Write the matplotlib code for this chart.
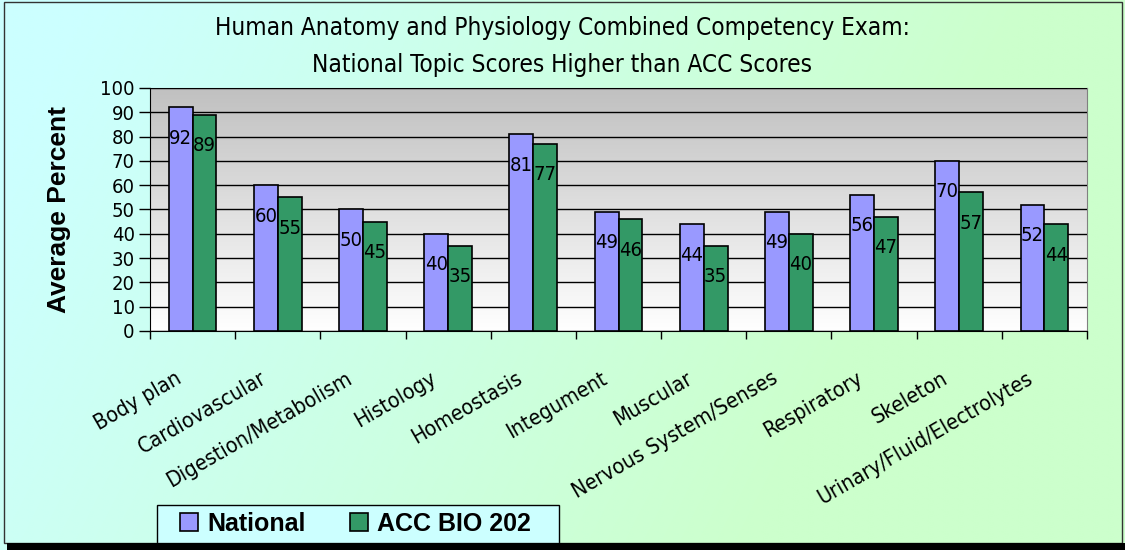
import numpy as np
import matplotlib

matplotlib.use("Agg")
import matplotlib.pyplot as plt
from matplotlib.patches import Patch, Rectangle
from matplotlib.transforms import ScaledTranslation

# data
topics = [
    "Body plan", "Cardiovascular", "Digestion/Metabolism", "Histology",
    "Homeostasis", "Integument", "Muscular", "Nervous System/Senses",
    "Respiratory", "Skeleton", "Urinary/Fluid/Electrolytes",
]
national = [92, 60, 50, 40, 81, 49, 44, 49, 56, 70, 52]
acc_bio_202 = [89, 55, 45, 35, 77, 46, 35, 40, 47, 57, 44]
series_names = ["National", "ACC BIO 202"]
title_lines = [
    "Human Anatomy and Physiology Combined Competency Exam:",
    "National Topic Scores Higher than ACC Scores",
]

NARROW = dict(family="DejaVu Sans", stretch="condensed")
NATIONAL_COLOR = "#9999FF"
ACC_COLOR = "#339966"

W, H = 1125, 550
fig = plt.figure(figsize=(W / 100, H / 100), dpi=100)

# figure background: cyan -> light green diagonal gradient
bg = fig.add_axes([0, 0, 1, 1], zorder=-10)
gx, gy = np.meshgrid(np.linspace(0, 1, 300), np.linspace(0, 1, 150))
t = np.clip(1.5 * (0.8 * gx + 0.2 * gy) - 0.1, 0, 1)
c0 = np.array([0xCC, 0xFF, 0xFF]) / 255
c1 = np.array([0xCC, 0xFF, 0xCC]) / 255
bg.imshow(c0 + (c1 - c0) * t[..., None], aspect="auto", extent=(0, 1, 0, 1),
          origin="upper", interpolation="bilinear")
bg.set_axis_off()

ax = fig.add_axes([150 / W, 1 - 331 / H, (1087 - 150) / W, (331 - 88) / H])

# plot area gradient: gray at top to white at bottom
grad = np.linspace(0, 1, 256)[:, None]
g0 = np.array([0xC0, 0xC0, 0xC0]) / 255
g1 = np.array([1.0, 1.0, 1.0])
ax.imshow(g0 + (g1 - g0) * grad[..., None], aspect="auto",
          extent=(-0.5, len(topics) - 0.5, 0, 100), origin="upper", zorder=0)

x = np.arange(len(topics))
bw = 0.28
bars_nat = ax.bar(x - bw / 2, national, bw, color=NATIONAL_COLOR,
                  edgecolor="black", linewidth=1.2, zorder=3)
bars_acc = ax.bar(x + bw / 2, acc_bio_202, bw, color=ACC_COLOR,
                  edgecolor="black", linewidth=1.2, zorder=3)

for bars, vals in ((bars_nat, national), (bars_acc, acc_bio_202)):
    for rect, v in zip(bars, vals):
        ax.annotate(str(v), (rect.get_x() + rect.get_width() / 2, v),
                    xytext=(0, -31), textcoords="offset pixels",
                    ha="center", va="center", fontsize=14.5, zorder=4, **NARROW)

ax.set_xlim(-0.5, len(topics) - 0.5)
ax.set_ylim(0, 100)
ax.set_yticks(np.arange(0, 101, 10))
ax.yaxis.grid(True, color="black", linewidth=1.0, zorder=1)
ax.set_axisbelow(False)
for lab in ax.get_yticklabels():
    lab.set_fontsize(14.5)
    lab.set_family(NARROW["family"])
    lab.set_stretch(NARROW["stretch"])
ax.tick_params(axis="y", direction="out", length=8, width=1, pad=3)

ax.set_xticks(x, topics, rotation=30, ha="right", va="center",
              rotation_mode="anchor", fontsize=15.5, **NARROW)
ax.set_xticks(np.arange(-0.5, len(topics), 1.0), minor=True)
ax.tick_params(axis="x", which="major", length=0, pad=33)
ax.tick_params(axis="x", which="minor", direction="out", length=6, width=1)
shift = ScaledTranslation(-0.13, 0, fig.dpi_scale_trans)
for lab in ax.get_xticklabels():
    lab.set_transform(lab.get_transform() + shift)

for side in ("top", "right"):
    ax.spines[side].set_color("#808080")
ax.spines["left"].set_color("black")
ax.spines["bottom"].set_color("black")

ax.set_ylabel("Average Percent", fontsize=19, fontweight="bold",
              family="Liberation Sans", labelpad=21)

fig.text(0.5, 1 - 28 / H, title_lines[0], ha="center", va="center",
         fontsize=17.5, **NARROW)
fig.text(0.5, 1 - 65 / H, title_lines[1], ha="center", va="center",
         fontsize=17.5, **NARROW)

# legend box drawn by hand so its padding can follow the reference
fig.add_artist(Rectangle((157 / W, 1 - 550 / H), (559 - 157) / W, 45 / H,
                         transform=fig.transFigure, facecolor="#CCFFFF",
                         edgecolor="black", linewidth=1.0, zorder=4))
handles = [
    Patch(facecolor=NATIONAL_COLOR, edgecolor="black", linewidth=1.2),
    Patch(facecolor=ACC_COLOR, edgecolor="black", linewidth=1.2),
]
fig.legend(handles, series_names, ncol=2, loc="upper left",
           bbox_to_anchor=(180 / W, 1 - 512 / H),
           prop={"family": "Liberation Sans", "weight": "bold", "size": 18},
           handlelength=0.72, handleheight=0.72, handletextpad=0.36,
           columnspacing=1.8, borderpad=0, borderaxespad=0, frameon=False)

# outer frame and bottom shadow band
fig.add_artist(Rectangle((4 / W, 1 - 543 / H), (1122 - 4) / W, (543 - 2) / H,
                         transform=fig.transFigure, fill=False,
                         edgecolor="#333333", linewidth=1.0, zorder=9))
fig.add_artist(Rectangle((7 / W, 0), 1, 7 / H, transform=fig.transFigure,
                         facecolor="black", edgecolor="none", zorder=10))

fig.savefig("out.png", dpi=100)
plt.close(fig)
